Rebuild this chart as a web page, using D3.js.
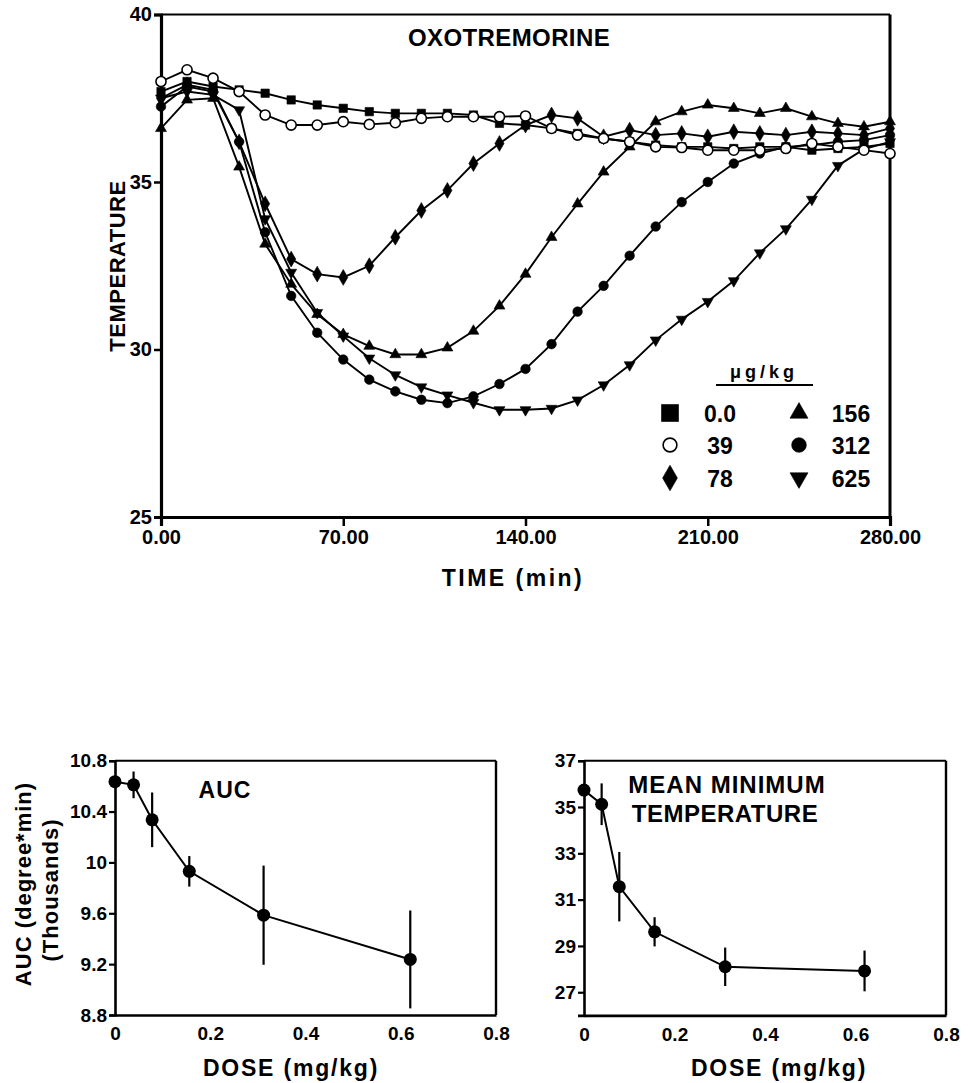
<!DOCTYPE html>
<html>
<head>
<meta charset="utf-8">
<script src="https://cdn.jsdelivr.net/npm/d3@7"></script>
<style>
  body { margin: 0; background: #fff; }
  svg text { font-family: "Liberation Sans", Arial, sans-serif; font-weight: bold; fill: #000; }
</style>
</head>
<body>
<svg id="chart" width="968" height="1083"></svg>
<script>
// time course (min) and body temperature per oxotremorine dose
const times = [0, 10, 20, 30, 40, 50, 60, 70, 80, 90, 100, 110, 120, 130, 140,
               150, 160, 170, 180, 190, 200, 210, 220, 230, 240, 250, 260, 270, 280];
const temp0   = [37.7, 38.0, 37.85, 37.75, 37.65, 37.45, 37.3, 37.2, 37.1, 37.05, 37.05, 37.05, 37.0, 36.75, 36.7,
                 36.6, 36.45, 36.3, 36.2, 36.1, 36.05, 36.05, 36.0, 36.05, 36.05, 35.95, 36.0, 36.05, 36.15];
const temp39  = [38.0, 38.35, 38.1, 37.7, 37.0, 36.7, 36.7, 36.8, 36.72, 36.77, 36.9, 36.95, 36.95, 36.95, 36.97,
                 36.6, 36.4, 36.3, 36.2, 36.05, 36.03, 35.95, 35.95, 35.95, 36.0, 36.15, 36.05, 35.95, 35.85];
const temp78  = [37.5, 37.9, 37.75, 36.2, 34.35, 32.7, 32.25, 32.15, 32.5, 33.35, 34.15, 34.75, 35.55, 36.15, 36.7,
                 37.0, 36.9, 36.35, 36.55, 36.4, 36.45, 36.35, 36.5, 36.45, 36.4, 36.5, 36.45, 36.4, 36.6];
const temp156 = [36.6, 37.45, 37.5, 35.45, 33.15, 31.95, 31.05, 30.45, 30.1, 29.85, 29.85, 30.05, 30.55, 31.3, 32.25,
                 33.35, 34.35, 35.3, 36.05, 36.8, 37.1, 37.3, 37.2, 37.05, 37.2, 36.95, 36.75, 36.65, 36.8];
const temp312 = [37.25, 37.85, 37.7, 36.2, 33.5, 31.6, 30.5, 29.7, 29.1, 28.75, 28.5, 28.4, 28.6, 28.97, 29.42,
                 30.16, 31.13, 31.9, 32.8, 33.67, 34.4, 35.0, 35.55, 35.85, 36.05, 36.1, 36.2, 36.25, 36.4];
const temp625 = [37.5, 37.7, 37.6, 37.15, 33.9, 32.3, 31.1, 30.4, 29.74, 29.24, 28.88, 28.64, 28.41, 28.2, 28.2,
                 28.24, 28.49, 28.94, 29.54, 30.28, 30.9, 31.43, 32.05, 32.88, 33.6, 34.48, 35.49, 35.98, 36.2];
const doseLabels = ['0.0', '39', '78', '156', '312', '625'];
const doseSymbols = ['square', 'circleOpen', 'diamond', 'triangleUp', 'circle', 'triangleDown'];

// dose-response summaries
const doses = [0, 0.039, 0.078, 0.156, 0.312, 0.62];
const aucMean = [10.635, 10.61, 10.335, 9.93, 9.585, 9.237];
const aucErr  = [0, 0.105, 0.215, 0.12, 0.39, 0.385];
const minTempMean = [35.73, 35.12, 31.56, 29.61, 28.1, 27.92];
const minTempErr  = [0, 0.9, 1.5, 0.63, 0.83, 0.88];

const timeTicks = [0, 70, 140, 210, 280];
const tempTicks = [25, 30, 35, 40];
const doseTicks = [0, 0.2, 0.4, 0.6, 0.8];
const aucTicks = [8.8, 9.2, 9.6, 10, 10.4, 10.8];
const minTempTicks = [27, 29, 31, 33, 35, 37];

const svg = d3.select('#chart');

function symbolPath(kind, size) {
  const type = {
    square: d3.symbolSquare, circle: d3.symbolCircle, circleOpen: d3.symbolCircle,
    diamond: d3.symbolDiamond, triangleUp: d3.symbolTriangle, triangleDown: d3.symbolTriangle
  }[kind];
  return d3.symbol().type(type).size(size)();
}
function drawSymbol(g, kind, cx, cy, size) {
  g.append('path')
    .attr('d', symbolPath(kind, size))
    .attr('transform', `translate(${cx},${cy})` + (kind === 'triangleDown' ? ' rotate(180)' : ''))
    .attr('fill', kind === 'circleOpen' ? '#fff' : '#000')
    .attr('stroke', '#000')
    .attr('stroke-width', kind === 'circleOpen' ? 1.6 : 0.6);
}

// ---------- top chart: time course ----------
const x = d3.scaleLinear().domain([0, 280]).range([161, 890]);
const y = d3.scaleLinear().domain([25, 40]).range([517, 14.5]);

const topG = svg.append('g');

// frame
topG.append('line').attr('x1', x(0)).attr('x2', x(280)).attr('y1', y(40)).attr('y2', y(40))
  .attr('stroke', '#000').attr('stroke-width', 2.2);
topG.append('line').attr('x1', x(280)).attr('x2', x(280)).attr('y1', y(40)).attr('y2', y(25))
  .attr('stroke', '#000').attr('stroke-width', 3);

const yAxis = topG.append('g').attr('transform', `translate(${x(0)},0)`)
  .call(d3.axisLeft(y).tickValues(tempTicks).tickFormat(d3.format('d')).tickSize(7).tickPadding(2));
const xAxis = topG.append('g').attr('transform', `translate(0,${y(25)})`)
  .call(d3.axisBottom(x).tickValues(timeTicks).tickFormat(d3.format('.2f')).tickSize(9).tickPadding(4));
[yAxis, xAxis].forEach(a => {
  a.select('.domain').attr('stroke', '#000').attr('stroke-width', 3.2);
  a.selectAll('.tick line').attr('stroke', '#000').attr('stroke-width', 2.5);
  a.selectAll('.tick text').style('font-size', '20px').style('font-family', '"Liberation Sans", Arial, sans-serif').style('font-weight', 'bold');
});

const allSeries = [temp0, temp39, temp78, temp156, temp312, temp625];
const line = d3.line().x((d, i) => x(times[i])).y(d => y(d));
allSeries.forEach(s => {
  topG.append('path').attr('d', line(s)).attr('fill', 'none').attr('stroke', '#000').attr('stroke-width', 1.9);
});
const markerSize = { square: 70, circleOpen: 80, diamond: 72, triangleUp: 52, circle: 72, triangleDown: 52 };
[5, 4, 3, 2, 0, 1].forEach(k => {
  const g = topG.append('g');
  allSeries[k].forEach((v, i) => drawSymbol(g, doseSymbols[k], x(times[i]), y(v), markerSize[doseSymbols[k]]));
});

topG.append('text').attr('x', 509).attr('y', 46).attr('text-anchor', 'middle')
  .style('font-size', '24px').style('letter-spacing', '0.4px').text('OXOTREMORINE');
topG.append('text').attr('transform', 'translate(125,266) rotate(-90)').attr('text-anchor', 'middle')
  .style('font-size', '22px').style('letter-spacing', '0.5px').text('TEMPERATURE');
topG.append('text').attr('x', 513).attr('y', 586).attr('text-anchor', 'middle')
  .style('font-size', '23px').style('letter-spacing', '2.5px').text('TIME  (min)');

// legend
const leg = topG.append('g');
leg.append('text').attr('x', 764).attr('y', 378).attr('text-anchor', 'middle')
  .style('font-size', '18px').style('letter-spacing', '4px').text('μg/kg');
leg.append('line').attr('x1', 716).attr('x2', 813).attr('y1', 385).attr('y2', 385)
  .attr('stroke', '#000').attr('stroke-width', 2);
const legSize = { square: 290, circleOpen: 150, diamond: 190, triangleUp: 140, circle: 170, triangleDown: 140 };
const legCols = [{ mx: 670, tx: 720 }, { mx: 799, tx: 851 }];
const legRows = [413, 445, 478];
doseLabels.forEach((lab, k) => {
  const c = legCols[Math.floor(k / 3)], r = legRows[k % 3];
  drawSymbol(leg, doseSymbols[k], c.mx, r, legSize[doseSymbols[k]]);
  leg.append('text').attr('x', c.tx).attr('y', r + 8.5).attr('text-anchor', 'middle')
    .style('font-size', '23px').text(lab);
});

// ---------- bottom charts ----------
function doseChart(opts) {
  const g = svg.append('g');
  const xs = d3.scaleLinear().domain([0, 0.8]).range(opts.xr);
  const ys = d3.scaleLinear().domain(opts.yd).range(opts.yr);
  g.append('line').attr('x1', xs(0)).attr('x2', xs(0.8)).attr('y1', opts.yr[1]).attr('y2', opts.yr[1])
    .attr('stroke', '#000').attr('stroke-width', 2);
  g.append('line').attr('x1', xs(0.8)).attr('x2', xs(0.8)).attr('y1', opts.yr[1]).attr('y2', opts.yr[0])
    .attr('stroke', '#000').attr('stroke-width', 2.4);
  const ya = g.append('g').attr('transform', `translate(${xs(0)},0)`)
    .call(d3.axisLeft(ys).tickValues(opts.ticks).tickFormat(d => String(d)).tickSize(6).tickPadding(2));
  const xa = g.append('g').attr('transform', `translate(0,${opts.yr[0]})`)
    .call(d3.axisBottom(xs).tickValues(doseTicks).tickFormat(d => String(d)).tickSize(0).tickPadding(12));
  [ya, xa].forEach(a => {
    a.select('.domain').attr('stroke', '#000').attr('stroke-width', 2.6);
    a.selectAll('.tick line').attr('stroke', '#000').attr('stroke-width', 2.2);
    a.selectAll('.tick text').style('font-size', '19px').style('font-family', '"Liberation Sans", Arial, sans-serif').style('font-weight', 'bold');
  });
  const ln = d3.line().x((d, i) => xs(doses[i])).y(d => ys(d));
  g.append('path').attr('d', ln(opts.mean)).attr('fill', 'none').attr('stroke', '#000').attr('stroke-width', 2);
  opts.mean.forEach((m, i) => {
    g.append('line').attr('x1', xs(doses[i])).attr('x2', xs(doses[i]))
      .attr('y1', ys(m - opts.err[i])).attr('y2', ys(m + opts.err[i]))
      .attr('stroke', '#000').attr('stroke-width', 2.2);
    g.append('circle').attr('cx', xs(doses[i])).attr('cy', ys(m)).attr('r', 6.5).attr('fill', '#000');
  });
  g.append('text').attr('x', opts.xTitleX).attr('y', 1076).attr('text-anchor', 'middle')
    .style('font-size', '23px').style('letter-spacing', '1.8px').text('DOSE  (mg/kg)');
  return g;
}

const auc = doseChart({ xr: [115, 496], yd: [8.8, 10.8], yr: [1015, 760.7], ticks: aucTicks,
  mean: aucMean, err: aucErr, xTitleX: 291 });
auc.append('text').attr('x', 225).attr('y', 798).attr('text-anchor', 'middle')
  .style('font-size', '23px').style('letter-spacing', '1px').text('AUC');
auc.append('text').attr('transform', 'translate(31,884) rotate(-90)').attr('text-anchor', 'middle')
  .style('font-size', '22px').style('letter-spacing', '1px').text('AUC  (degree*min)');
auc.append('text').attr('transform', 'translate(58,890) rotate(-90)').attr('text-anchor', 'middle')
  .style('font-size', '22px').style('letter-spacing', '1px').text('(Thousands)');

const mmt = doseChart({ xr: [584, 946], yd: [26, 37], yr: [1015.4, 760.7], ticks: minTempTicks,
  mean: minTempMean, err: minTempErr, xTitleX: 779 });
mmt.append('text').attr('x', 727).attr('y', 793).attr('text-anchor', 'middle')
  .style('font-size', '24px').style('letter-spacing', '1px').text('MEAN  MINIMUM');
mmt.append('text').attr('x', 725).attr('y', 822).attr('text-anchor', 'middle')
  .style('font-size', '24px').style('letter-spacing', '0.5px').text('TEMPERATURE');
</script>
</body>
</html>
